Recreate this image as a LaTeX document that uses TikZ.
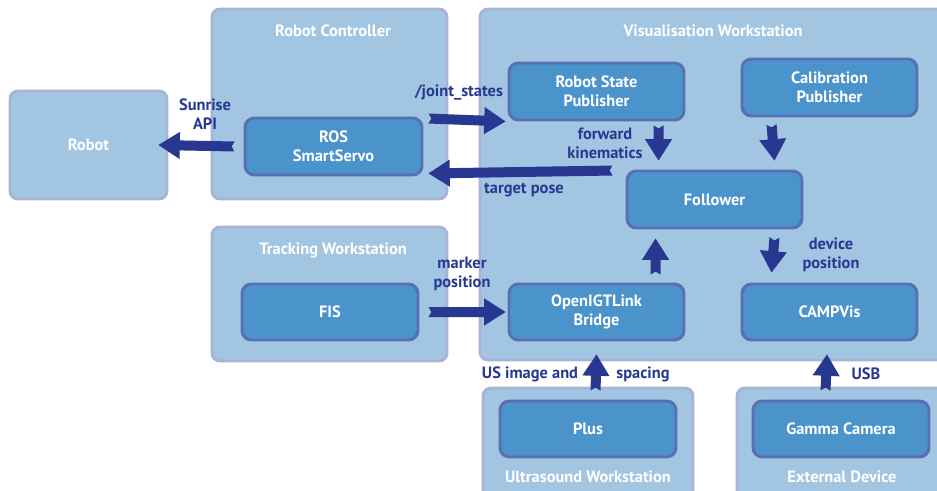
\documentclass[tikz,border=0pt]{standalone}
\usepackage{fontspec}
\setmainfont{PT Sans}
\usetikzlibrary{fit,calc}
\definecolor{outerfill}{HTML}{A2C5E2}
\definecolor{outerdraw}{HTML}{A9B3D8}
\definecolor{innerfill}{HTML}{4A93CB}
\definecolor{innerdraw}{HTML}{5A6EB2}
\definecolor{navy}{HTML}{283891}
\tikzset{
 outer/.style={draw=outerdraw, fill=outerfill, line width=2.2pt, rounded corners=6pt, inner sep=0pt},
 inner/.style={draw=innerdraw, fill=innerfill, line width=2.2pt, rounded corners=7pt, inner sep=0pt},
 boxtext/.style={text=white, font=\bfseries\fontsize{12.3}{14.5}\selectfont, align=center, inner sep=0pt},
 title/.style={text=white, font=\bfseries\fontsize{12.3}{14.5}\selectfont, inner sep=0pt},
 lbl/.style={text=navy, font=\bfseries\fontsize{12.3}{14.5}\selectfont, align=center, inner sep=0pt}
}
% fat block arrow with notched tail, from #1 to #2
\newcommand\fatarr[2]{%
 \coordinate (fas) at (#1);
 \coordinate (fae) at (#2);
 \coordinate (fah) at ($(fae)!16pt!(fas)$);
 \fill[navy] ($(fas)!3.75pt!90:(fae)$) -- ($(fas)!2.2pt!(fae)$) -- ($(fas)!3.75pt!-90:(fae)$)
   -- ($(fah)!3.75pt!-90:(fae)$) -- ($(fah)!10.2pt!-90:(fae)$) -- (fae)
   -- ($(fah)!10.2pt!90:(fae)$) -- ($(fah)!3.75pt!90:(fae)$) -- cycle;
}
\begin{document}
\begin{tikzpicture}[x=0.75pt,y=-0.75pt]
\useasboundingbox (0,0) rectangle (937,491);
\clip (0,0) rectangle (937,491);
% outer boxes
\node[outer, fit={(10,91) (167,199)}] (robot) {};
\node[outer, fit={(212,9) (447,199)}] (rc) {};
\node[outer, fit={(480,9) (960,360)}] (vw) {};
\node[outer, fit={(212,227) (447,361)}] (tw) {};
\node[outer, fit={(483,388) (693,510)}] (uw) {};
\node[outer, fit={(737,388) (960,510)}] (ed) {};
% titles
\node[title] (robotlbl) at (robot.center) {Robot};
\node[title] (rclbl) at (333,31) {Robot Controller};
\node[title] (vwlbl) at (713,31) {Visualisation Workstation};
\node[title] (twlbl) at (333,250) {Tracking Workstation};
\node[title] (uwlbl) at (588,477) {Ultrasound Workstation};
\node[title] (edlbl) at (842,477) {External Device};
% inner boxes
\node[inner, fit={(245,118) (422,175)}] (ros) {};
\node[inner, fit={(509,63) (684,120)}] (rsp) {};
\node[inner, fit={(742,59) (917,116)}] (calib) {};
\node[inner, fit={(627,171) (802,228)}] (follower) {};
\node[inner, fit={(509,284) (684,340)}] (oigt) {};
\node[inner, fit={(742,284) (917,340)}] (campvis) {};
\node[inner, fit={(242,284) (418,340)}] (fis) {};
\node[inner, fit={(500,401) (676,457)}] (plus) {};
\node[inner, fit={(753,401) (929,457)}] (gamma) {};
\node[boxtext] (rost) at (ros.center) {ROS\\SmartServo};
\node[boxtext] (rspt) at (rsp.center) {Robot State\\Publisher};
\node[boxtext] (calibt) at (calib.center) {Calibration\\Publisher};
\node[boxtext] (followert) at (follower.center) {Follower};
\node[boxtext] (oigtt) at (oigt.center) {OpenIGTLink\\Bridge};
\node[boxtext] (campvist) at (campvis.center) {CAMPVis};
\node[boxtext] (fist) at (fis.center) {FIS};
\node[boxtext] (plust) at (plus.center) {Plus};
\node[boxtext] (gammat) at (gamma.center) {Gamma Camera};
% arrows
\fatarr{$(ros.west)+(-9,0)$}{$(robot.east)+(-10,0)$}
\fatarr{$(ros.north east)+(5,2)$}{$(rsp.south west)+(-2,0)$}
\fatarr{$(follower.north west)+(-13,1)$}{$(ros.south east)+(5,-3)$}
\fatarr{$(rsp.south west)+(151,4)$}{$(follower.north west)+(33,-9)$}
\fatarr{$(calib.south west)+(31,7)$}{$(follower.north east)+(-29,-9)$}
\fatarr{$(follower.south east)+(-29,8)$}{$(campvis.north west)+(31,-10)$}
\fatarr{$(oigt.north west)+(148,-8)$}{$(follower.south west)+(30,9)$}
\fatarr{$(fis.east)+(9,0)$}{$(oigt.west)+(-2,0)$}
\fatarr{$(plus.north west)+(97,-9)$}{$(oigt.south)+(0,13)$}
\fatarr{$(gamma.north west)+(74,-9)$}{$(campvis.south)+(-2.5,13)$}
% labels
\node[lbl] (l1) at (205,114) {Sunrise\\API};
\node[lbl] (l2) at (459,93) {/joint\_states};
\node[lbl] (l3) at (524,190) {target pose};
\node[lbl] (l4) at (605,143) {forward\\kinematics};
\node[lbl] (l5) at (831,255) {device\\position};
\node[lbl] (l6) at (462,274) {marker\\position};
\node[lbl] (l7) at (530,374) {US image and};
\node[lbl] (l8) at (643,374) {spacing};
\node[lbl] (l9) at (866,374) {USB};
\end{tikzpicture}
\end{document}
